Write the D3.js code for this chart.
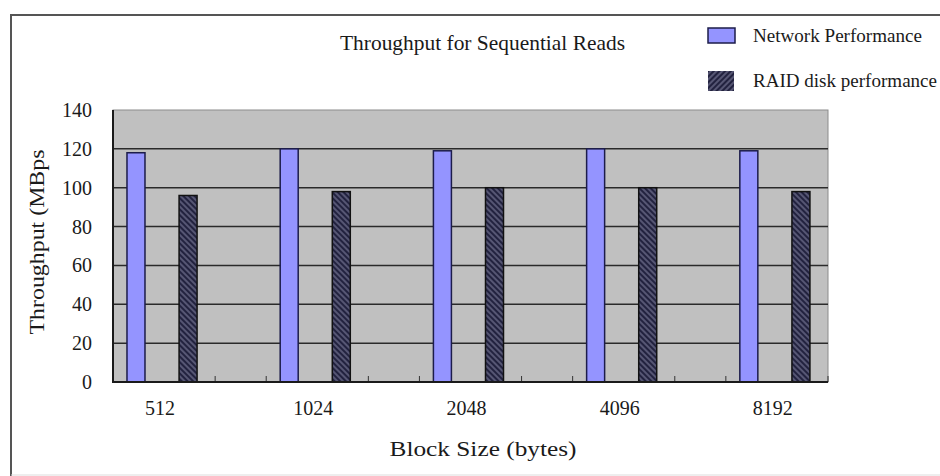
<!DOCTYPE html>
<html>
<head>
<meta charset="utf-8">
<script src="https://cdn.jsdelivr.net/npm/d3@7"></script>
<style>
  html, body { margin: 0; padding: 0; background: #fff; }
  svg { display: block; }
  text { font-family: "Liberation Serif", "Times New Roman", serif; fill: #1a1a1a; }
</style>
</head>
<body>
<svg id="chart" width="940" height="476"></svg>
<script>
// Sequential read throughput per block size
const blockSizes = ["512", "1024", "2048", "4096", "8192"];
const networkPerf = [118, 120, 119, 120, 119];
const raidPerf = [96, 98, 100, 100, 98];
const yTicks = [0, 20, 40, 60, 80, 100, 120, 140];
const seriesNames = ["Network Performance", "RAID disk performance"];

const svg = d3.select("#chart");

// plot frame
const plot = { left: 113, right: 828, top: 110, bottom: 382 };
const slots = 14; // category axis divided in 14 slots, 3 per block size

const y = d3.scaleLinear().domain([0, 140]).range([plot.bottom, plot.top]);
const xSlot = d3.scaleLinear().domain([0, slots]).range([plot.left, plot.right]);
const x = d3.scaleBand().domain(blockSizes)
  .range([xSlot(0), xSlot(3 * blockSizes.length)]).padding(0);
const slotW = xSlot(1) - xSlot(0);
const barW = 18;

// hatch patterns for the RAID series
const defs = svg.append("defs");
function hatch(id, angle) {
  const p = defs.append("pattern").attr("id", id)
    .attr("patternUnits", "userSpaceOnUse").attr("width", 4).attr("height", 4)
    .attr("patternTransform", `rotate(${angle})`);
  p.append("rect").attr("width", 4).attr("height", 4).attr("fill", "#22223f");
  p.append("line").attr("x1", 1).attr("y1", 0).attr("x2", 1).attr("y2", 4)
    .attr("stroke", "#8a8aa8").attr("stroke-width", 1);
}
hatch("hatchBar", -45);
hatch("hatchKey", 45);

// outer chart border
svg.append("line").attr("x1", 11).attr("y1", 15).attr("x2", 940).attr("y2", 15)
  .attr("stroke", "#555").attr("stroke-width", 2);
svg.append("line").attr("x1", 11).attr("y1", 14).attr("x2", 11).attr("y2", 476)
  .attr("stroke", "#555").attr("stroke-width", 2);
svg.append("line").attr("x1", 11).attr("y1", 475).attr("x2", 940).attr("y2", 475)
  .attr("stroke", "#ddd").attr("stroke-width", 1);

// plot background
svg.append("rect")
  .attr("x", plot.left).attr("y", plot.top)
  .attr("width", plot.right - plot.left).attr("height", plot.bottom - plot.top)
  .attr("fill", "#c0c0c0").attr("stroke", "#8c8c8c").attr("stroke-width", 1);

// horizontal gridlines
svg.append("g").selectAll("line")
  .data(yTicks.filter(d => d > 0 && d < 140))
  .join("line")
  .attr("x1", plot.left).attr("x2", plot.right)
  .attr("y1", d => y(d)).attr("y2", d => y(d))
  .attr("stroke", "#2a2a2a").attr("stroke-width", 1.5);

// category tick marks along the base
const tickSlots = d3.range(1, slots + 1).filter(k => k % 3 !== 1);
svg.append("g").selectAll("line")
  .data(tickSlots)
  .join("line")
  .attr("x1", d => xSlot(d)).attr("x2", d => xSlot(d))
  .attr("y1", plot.bottom).attr("y2", plot.bottom - 6)
  .attr("stroke", "#333").attr("stroke-width", 1);

// bars
const bars = svg.append("g");
bars.selectAll("rect.net")
  .data(blockSizes)
  .join("rect").attr("class", "net")
  .attr("x", (d) => x(d) + 0.45 * slotW - barW / 2)
  .attr("y", (d, i) => y(networkPerf[i]))
  .attr("width", barW)
  .attr("height", (d, i) => y(0) - y(networkPerf[i]))
  .attr("fill", "#9494ff").attr("stroke", "#1c1c4a").attr("stroke-width", 1.5);

bars.selectAll("rect.raid")
  .data(blockSizes)
  .join("rect").attr("class", "raid")
  .attr("x", (d) => x(d) + 1.47 * slotW - barW / 2)
  .attr("y", (d, i) => y(raidPerf[i]))
  .attr("width", barW)
  .attr("height", (d, i) => y(0) - y(raidPerf[i]))
  .attr("fill", "url(#hatchBar)").attr("stroke", "#111").attr("stroke-width", 1.5);

// axis lines
svg.append("line").attr("x1", plot.left).attr("x2", plot.left)
  .attr("y1", plot.top).attr("y2", plot.bottom)
  .attr("stroke", "#1a1a1a").attr("stroke-width", 2);
svg.append("line").attr("x1", plot.left - 1).attr("x2", plot.right)
  .attr("y1", plot.bottom).attr("y2", plot.bottom)
  .attr("stroke", "#1a1a1a").attr("stroke-width", 2);

// y tick labels
svg.append("g").selectAll("text")
  .data(yTicks)
  .join("text")
  .attr("x", 92).attr("y", d => y(d) + 7)
  .attr("text-anchor", "end").attr("font-size", 20)
  .text(d => d);

// x tick labels
svg.append("g").selectAll("text")
  .data(blockSizes)
  .join("text")
  .attr("x", d => x(d) + 0.92 * slotW).attr("y", 415)
  .attr("text-anchor", "middle").attr("font-size", 20)
  .text(d => d);

// titles
svg.append("text")
  .attr("x", 482.5).attr("y", 50).attr("text-anchor", "middle")
  .attr("font-size", 21).attr("textLength", 285).attr("lengthAdjust", "spacingAndGlyphs")
  .text("Throughput for Sequential Reads");

svg.append("text")
  .attr("x", 483).attr("y", 456).attr("text-anchor", "middle")
  .attr("font-size", 21).attr("textLength", 187).attr("lengthAdjust", "spacingAndGlyphs")
  .text("Block Size (bytes)");

svg.append("text")
  .attr("transform", "translate(44,242) rotate(-90)")
  .attr("text-anchor", "middle")
  .attr("font-size", 21).attr("textLength", 185).attr("lengthAdjust", "spacingAndGlyphs")
  .text("Throughput (MBps");

// legend
const legend = svg.append("g");
legend.append("rect").attr("x", 708).attr("y", 28).attr("width", 27).attr("height", 15)
  .attr("fill", "#9494ff").attr("stroke", "#1c1c4a").attr("stroke-width", 1.5);
legend.append("rect").attr("x", 708).attr("y", 71).attr("width", 26).attr("height", 20)
  .attr("fill", "url(#hatchKey)");
legend.append("text").attr("x", 753).attr("y", 42).attr("font-size", 19)
  .attr("textLength", 169).attr("lengthAdjust", "spacingAndGlyphs")
  .text(seriesNames[0]);
legend.append("text").attr("x", 753).attr("y", 87).attr("font-size", 19)
  .attr("textLength", 184).attr("lengthAdjust", "spacingAndGlyphs")
  .text(seriesNames[1]);
</script>
</body>
</html>
